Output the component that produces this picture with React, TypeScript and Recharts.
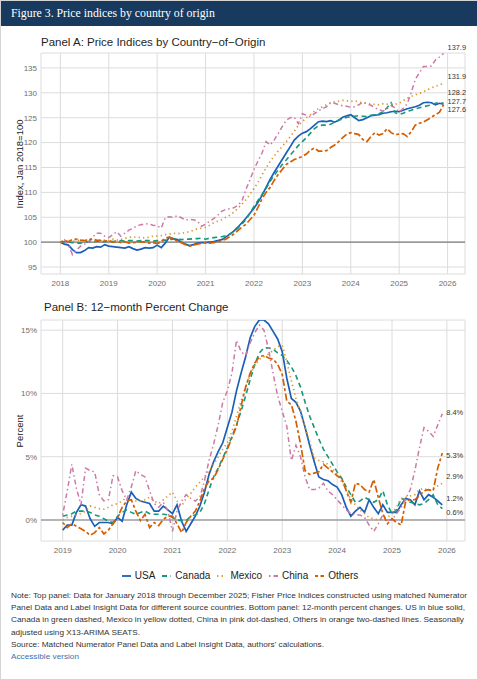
import React from "react";
import {
  LineChart,
  Line,
  XAxis,
  YAxis,
  CartesianGrid,
  ReferenceLine,
  ReferenceDot,
} from "recharts";

const seriesNames = ["USA", "Canada", "Mexico", "China", "Others"];

// Panel A: Fisher price index, Jan 2018 = 100, monthly Jan 2018 - Dec 2025
const usaIndex = [
  100.0, 99.6, 99.4, 98.5, 97.9, 97.9, 98.3, 98.9, 98.8, 99.1, 99.0, 99.5,
  99.2, 99.1, 99.0, 98.9, 98.8, 99.1, 98.7, 98.4, 98.6, 98.9, 98.8, 98.9,
  99.4, 98.9, 99.8, 101.0, 100.7, 100.5, 100.0, 99.6, 99.3, 99.5, 99.8, 99.9,
  99.9, 100.0, 100.1, 100.3, 100.5, 101.0, 101.6, 102.2, 103.0, 103.9, 104.8, 105.8,
  106.8, 108.0, 109.4, 111.0, 112.6, 114.0, 115.3, 116.6, 117.9, 119.2, 120.5, 121.3,
  121.9, 122.2, 122.8, 123.5, 124.2, 124.3, 124.2, 124.4, 124.1, 124.5, 125.1, 125.4,
  125.6, 125.0, 124.4, 124.6, 125.0, 125.4, 125.5, 125.6, 125.9, 126.0, 126.2, 126.3,
  126.2, 126.5, 126.8, 127.0, 127.2, 127.5, 128.0, 128.1, 128.0, 127.6, 127.9, 127.7,
];
const canadaIndex = [
  100.0, 100.1, 100.0, 99.9, 99.8, 99.8, 100.0, 100.1, 100.1, 100.2, 100.2, 100.1,
  100.2, 100.1, 100.2, 100.3, 100.2, 100.3, 100.3, 100.2, 100.3, 100.3, 100.3, 100.2,
  100.3, 100.3, 100.4, 100.5, 100.6, 100.6, 100.5, 100.6, 100.6, 100.7, 100.7, 100.8,
  100.6, 100.8, 100.9, 101.0, 101.1, 101.3, 101.6, 102.1, 102.8, 103.6, 104.5, 105.8,
  107.2, 108.4, 109.6, 110.8, 112.2, 113.4, 114.5, 115.6, 116.5, 117.5, 118.4, 119.4,
  120.2, 121.0, 121.9, 122.8, 123.4, 123.5, 123.5, 123.7, 124.1, 124.5, 124.8, 125.1,
  125.2, 125.3, 125.4, 125.3, 125.2, 125.5, 125.6, 125.8, 126.2, 127.0, 128.0, 126.0,
  125.7, 125.9, 126.3, 126.5, 126.8, 127.0, 127.2, 127.4, 127.6, 127.9, 128.1, 127.9,
];
const mexicoIndex = [
  100.0, 100.2, 100.4, 100.1, 100.3, 100.5, 100.2, 100.6, 100.4, 100.3, 100.5, 100.4,
  100.3, 100.6, 100.4, 100.5, 100.8, 100.9, 101.1, 100.9, 101.0, 100.8, 101.0, 101.2,
  101.2, 101.3, 101.5, 101.6, 101.8, 101.7, 101.8, 101.9, 102.1, 102.4, 102.7, 102.8,
  103.0, 103.4, 103.9, 104.2, 104.5, 105.0, 105.4, 106.0, 106.8, 107.6, 108.5, 109.6,
  110.8, 112.0, 113.5, 114.9, 116.2, 117.3, 118.3, 119.2, 120.2, 121.2, 122.3, 123.5,
  124.2, 125.0, 125.6, 126.3, 126.8, 127.2, 127.6, 127.9, 128.2, 128.3, 128.5, 128.4,
  128.3, 128.4, 128.1, 128.0, 127.9, 127.7, 127.7, 127.6, 127.8, 127.7, 127.8, 127.7,
  127.9, 128.4, 128.9, 129.3, 129.6, 129.9, 130.2, 130.6, 131.0, 131.3, 131.6, 131.9,
];
const chinaIndex = [
  100.0, 100.5, 99.4, 97.5, 98.4, 99.2, 99.6, 100.1, 101.0, 101.8, 101.8, 101.2,
  100.9, 101.5, 102.1, 101.2, 101.8, 102.4, 102.8, 103.3, 103.5, 103.7, 103.6, 103.4,
  103.3, 102.8, 104.9, 105.1, 105.0, 105.3, 104.9, 104.4, 104.6, 104.5, 104.2, 103.2,
  103.6, 104.2, 104.7, 105.4, 106.2, 106.6, 106.7, 106.9, 107.4, 108.2, 110.6, 112.5,
  114.6, 116.3, 117.9, 120.2, 119.5, 120.5, 121.8, 123.2, 124.5, 125.0, 125.1, 123.8,
  125.8, 125.5, 125.2, 125.8, 126.4, 126.8, 127.2, 128.1, 127.9, 127.6, 127.4, 127.3,
  127.1, 127.2, 127.6, 128.1, 127.8, 127.5, 127.0, 126.6, 126.3, 126.8, 127.4, 127.0,
  126.1, 126.9, 127.8, 130.1, 132.7, 134.0, 135.3, 135.3, 135.4, 136.6, 137.2, 137.9,
];
const othersIndex = [
  100.0, 100.3, 100.1, 100.5, 100.6, 100.4, 100.3, 100.5, 100.6, 100.4, 100.3, 100.2,
  100.3, 100.0, 100.2, 99.9, 100.1, 99.8, 99.9, 100.0, 100.1, 100.0, 99.8, 99.9,
  99.7, 100.1, 100.8, 101.0, 100.6, 100.2, 99.9, 99.5, 99.2, 99.4, 99.6, 99.8,
  99.9, 99.8, 99.9, 100.1, 100.3, 100.6, 101.1, 101.6, 102.3, 103.0, 103.6, 104.5,
  105.4, 107.0, 108.7, 110.0, 111.0, 112.4, 113.6, 114.6, 115.6, 116.1, 116.6, 116.9,
  117.2, 117.7, 118.5, 118.9, 118.3, 118.3, 118.4, 119.0, 119.5, 120.2, 121.0, 121.7,
  122.0, 121.8, 121.6, 120.6, 120.2, 121.2, 122.0, 121.5, 121.8, 122.8, 122.0, 121.6,
  121.7, 121.8, 121.2, 122.2, 123.5, 123.9, 124.1, 124.6, 125.1, 125.6, 126.1, 127.6,
];

// Panel B: 12-month percent change, monthly Jan 2019 - Dec 2025
const usaPct = [
  -0.8, -0.4, -0.4, 0.6, 1.2, 1.1, 0.1, -0.5, -0.2, -0.2, -0.2, -0.3,
  0.2, -0.1, 1.2, 2.2, 1.7, 1.5, 1.4, 1.3, 0.7, 0.7, 1.1, 0.8,
  0.5, 1.2, -0.1, -0.9, -0.3, 0.3, 1.1, 2.2, 3.6, 4.6, 5.4, 6.1,
  7.3, 8.5, 10.2, 11.6, 12.9, 14.4, 15.3, 15.8, 15.8, 15.5, 14.9, 14.3,
  13.3, 11.2, 9.6, 9.3, 8.6, 7.3, 5.9, 4.6, 3.4, 3.2, 3.1, 2.8,
  2.6, 2.0, 1.0, 0.3, 0.7, 1.0, 0.6, 1.6, 1.0, 0.5, 1.2, 0.6,
  0.6, 0.6, 1.2, 1.7, 1.6, 1.2, 2.3, 1.6, 2.0, 1.8, 1.5, 1.2,
];
const canadaPct = [
  0.3, 0.4, 0.5, 0.7, 0.7, 0.7, 0.6, 0.4, 0.3, 0.1, -0.1, -0.2,
  0.3, 0.6, 0.8, 0.6, 0.45, 0.6, 0.7, 0.5, 0.45, 0.45, 0.45, 0.4,
  0.2, 0.0, -0.05, -0.05, 0.3, 0.4, 0.6, 1.3, 2.4, 3.4, 4.1, 4.9,
  5.7, 6.6, 7.5, 8.6, 9.8, 11.1, 12.3, 13.2, 13.6, 13.6, 13.5, 13.2,
  13.0, 12.6, 12.1, 11.4, 10.5, 9.3, 8.2, 7.3, 6.4, 5.6, 5.0, 4.4,
  3.8, 3.3, 2.6, 2.0, 1.4, 1.5, 1.8, 1.6, 1.4, 1.6, 2.3, 1.2,
  0.5, 0.8, 1.7, 1.6, 1.4, 1.3, 1.2, 1.3, 1.6, 2.0, 1.2, 0.9,
];
const mexicoPct = [
  0.0, 0.2, 0.3, 0.4, 0.5, 0.7, 1.1, 1.0, 0.9, 0.85, 1.0, 1.2,
  1.3, 1.5, 1.8, 1.6, 1.5, 1.5, 1.6, 1.8, 1.5, 1.3, 1.6, 1.9,
  2.2, 1.5, 1.1, 1.7, 2.1, 2.6, 3.0, 3.4, 3.9, 4.4, 5.0, 5.6,
  6.1, 7.0, 8.2, 9.4, 10.5, 11.5, 12.2, 12.7, 12.9, 13.1, 13.4, 13.7,
  13.8, 12.5, 11.0, 9.6, 8.5, 7.3, 6.2, 4.9, 4.7, 4.6, 4.4, 4.0,
  3.6, 3.0, 2.4, 1.6, 1.2, 0.8, 0.5, 0.2, 0.1, 0.0, 0.1, 0.2,
  0.5, 1.0, 1.7, 1.8, 1.9, 2.0, 2.4, 2.5, 2.3, 2.5, 2.7, 2.9,
];
const chinaPct = [
  0.4, 2.3, 4.4, 2.5, 1.2, 4.1, 3.9, 3.8, 2.0, 1.5, 1.6, 3.5,
  3.4, 2.3, 1.6, 2.6, 3.9, 3.6, 3.4, 2.3, 1.3, 1.0, 1.4, 0.7,
  -0.9, 0.7, 1.5, 2.0, 1.7, 1.5, 1.8, 3.1, 4.7, 6.0, 7.5, 9.3,
  10.2, 11.6, 14.2, 13.3, 13.0, 14.0, 14.8, 15.4, 15.0, 13.5, 11.6, 9.8,
  8.6, 7.4, 4.7, 5.9, 5.0, 3.4, 2.4, 2.4, 2.5, 2.9, 2.3, 2.0,
  1.6, 1.2, 0.8, 0.5, 0.4, 0.4, 0.2, -0.4, -0.9, -0.3, 0.4, 0.0,
  0.0, 0.5, 1.0, 1.7, 2.4, 3.9, 5.7, 7.3, 7.0, 6.6, 7.5, 8.4,
];
const othersPct = [
  -0.2, -0.6, -0.3, -0.5, -0.7, -0.9, -1.2, -1.0, -0.6, -1.1, -0.8, -0.3,
  0.2, 1.0, 1.5, 1.6, 0.7, -0.05, 0.45, -0.6, -0.2, -0.45, 0.05, 0.3,
  0.3, -0.3, -1.0, -0.2, 0.3, 0.7, 1.5, 2.5, 3.1, 3.3, 4.0, 4.8,
  5.6, 6.5, 7.4, 9.0, 10.5, 11.6, 12.4, 12.9, 13.0, 12.8, 12.7, 12.3,
  11.5, 9.4, 9.1, 7.8, 6.0, 3.9, 3.6, 3.7, 3.8, 4.4, 4.1, 3.8,
  3.5, 3.3, 2.3, 1.4, 2.9, 2.8, 2.4, 2.2, 3.2, 1.8, 0.5, -0.3,
  0.1, -0.2, -0.4, 1.5, 1.6, 1.6, 1.9, 2.3, 2.4, 2.3, 4.1, 5.3,
];

const indexEndLabels = ["137.9", "131.9", "128.2", "127.7", "127.6"];
const pctEndLabels = ["8.4%", "5.3%", "2.9%", "1.2%", "0.6%"];

const yearTicksA = [2018, 2019, 2020, 2021, 2022, 2023, 2024, 2025, 2026];
const indexTicks = [95, 100, 105, 110, 115, 120, 125, 130, 135];
const yearTicksB = [2019, 2020, 2021, 2022, 2023, 2024, 2025, 2026];
const pctTicks = [0, 5, 10, 15];

const indexSeries = [usaIndex, canadaIndex, mexicoIndex, chinaIndex, othersIndex];
const pctSeries = [usaPct, canadaPct, mexicoPct, chinaPct, othersPct];

function buildRows(series: number[][], startYear: number) {
  return series[0].map((_, i) => {
    const row: Record<string, number> = { t: startYear + i / 12 };
    seriesNames.forEach((name, k) => {
      row[name] = series[k][i];
    });
    return row;
  });
}

const indexRows = buildRows(indexSeries, 2018);
const pctRows = buildRows(pctSeries, 2019);
const lastT = 2025 + 11 / 12;

// where the repelled end labels sit, in data units
const indexLabelAt = [139.2, 133.3, 130.0, 128.3, 126.6];
const pctLabelAt = [8.5, 5.1, 3.45, 1.67, 0.63];

const looks: Record<string, { color: string; dash?: string; width: number }> = {
  USA: { color: "#1a5fb8", width: 1.7 },
  Canada: { color: "#15987a", dash: "5 3.5", width: 1.6 },
  Mexico: { color: "#d9962b", dash: "1.3 3.2", width: 1.7 },
  China: { color: "#cc79a7", dash: "1.5 3 5 3", width: 1.5 },
  Others: { color: "#d55e00", dash: "3 2.5 7 2.5", width: 1.7 },
};

const FONT = "'Liberation Sans', Arial, Helvetica, sans-serif";
const tickStyle = { fontSize: 8, fill: "#6e6e6e" };
const gridColor = "#dcdcdc";

function SeriesLines() {
  return seriesNames.map((name) => (
    <Line
      key={name}
      dataKey={name}
      type="linear"
      stroke={looks[name].color}
      strokeWidth={looks[name].width}
      strokeDasharray={looks[name].dash}
      dot={false}
      activeDot={false}
      isAnimationActive={false}
    />
  ));
}

function EndLabels({ labels, at }: { labels: string[]; at: number[] }) {
  return labels.map((text, i) => (
    <ReferenceDot
      key={text}
      x={lastT}
      y={at[i]}
      r={0}
      ifOverflow="visible"
      label={{ value: text, position: "right", offset: 4, fontSize: 7.4, fill: "#333" }}
    />
  ));
}

function Legend() {
  return (
    <div
      style={{
        position: "absolute",
        top: 569,
        left: 0,
        width: 478,
        display: "flex",
        justifyContent: "center",
        gap: 7,
        fontSize: 10,
        color: "#222",
      }}
    >
      {seriesNames.map((name) => (
        <div key={name} style={{ display: "flex", alignItems: "center", gap: 4 }}>
          <svg width={9} height={6}>
            <line
              x1={0}
              x2={9}
              y1={3}
              y2={3}
              stroke={looks[name].color}
              strokeWidth={1.8}
              strokeDasharray={looks[name].dash}
            />
          </svg>
          <span>{name}</span>
        </div>
      ))}
    </div>
  );
}

const noteLines = [
  "Note: Top panel: Data for January 2018 through December 2025; Fisher Price Indices constructed using matched Numerator",
  "Panel Data and Label Insight Data for different source countries. Bottom panel: 12-month percent changes. US in blue solid,",
  "Canada in green dashed, Mexico in yellow dotted, China in pink dot-dashed, Others in orange two-dashed lines. Seasonally",
  "adjusted using X13-ARIMA SEATS.",
  "Source: Matched Numerator Panel Data and Label Insight Data, authors' calculations.",
];
const noteWidths = [456, 454, 453, 129, 313];

function Notes() {
  return (
    <svg
      width={478}
      height={80}
      style={{ position: "absolute", top: 588, left: 0 }}
      fontFamily={FONT}
    >
      {noteLines.map((line, i) => (
        <text
          key={line}
          x={10}
          y={9.2 + i * 12.1}
          fontSize={8.1}
          fill="#333"
          textLength={noteWidths[i]}
          lengthAdjust="spacingAndGlyphs"
        >
          {line}
        </text>
      ))}
      <text x={10} y={9.2 + 5 * 12.1} fontSize={8.1} fill="#4670a8" textLength={68} lengthAdjust="spacingAndGlyphs">
        Accessible version
      </text>
    </svg>
  );
}

export default function App() {
  return (
    <div
      style={{
        position: "absolute",
        top: 0,
        left: 0,
        width: 478,
        height: 680,
        boxSizing: "border-box",
        border: "1px solid #d4d4d4",
        background: "#fff",
        fontFamily: FONT,
        overflow: "hidden",
      }}
    >
      <div
        style={{
          position: "absolute",
          top: 0,
          left: 0,
          width: 478,
          height: 25,
          background: "#173a5e",
          color: "#fff",
          fontFamily: "'Liberation Serif', 'DejaVu Serif', Georgia, serif",
          fontSize: 11.8,
          lineHeight: "25px",
          paddingLeft: 10,
          boxSizing: "border-box",
        }}
      >
        Figure 3. Price indices by country of origin
      </div>

      <div style={{ position: "absolute", top: 35, left: 40, fontSize: 11.5, color: "#1f1f1f" }}>
        Panel A: Price Indices by Country−of−Origin
      </div>
      <div
        style={{
          position: "absolute",
          top: 163,
          left: 18,
          transform: "translate(-50%, -50%) rotate(-90deg)",
          whiteSpace: "nowrap",
          fontSize: 9.5,
          color: "#222",
        }}
      >
        Index, Jan 2018=100
      </div>
      <div style={{ position: "absolute", top: 30, left: 0 }}>
        <LineChart
          width={478}
          height={265}
          data={indexRows}
          margin={{ top: 22, right: 14, bottom: 2, left: 10 }}
        >
          <CartesianGrid stroke={gridColor} strokeWidth={1} />
          <XAxis
            dataKey="t"
            type="number"
            domain={[2017.6, 2026.36]}
            ticks={yearTicksA}
            tick={tickStyle}
            tickLine={false}
            axisLine={false}
            tickSize={4}
            tickMargin={2}
            height={20}
            allowDataOverflow
          />
          <YAxis
            type="number"
            domain={[93.6, 138]}
            ticks={indexTicks}
            tick={tickStyle}
            tickLine={false}
            axisLine={false}
            tickSize={2}
            tickMargin={2}
            width={30}
            allowDataOverflow
          />
          <ReferenceLine y={100} stroke="#7d7d7d" strokeWidth={1.2} />
          {SeriesLines()}
          {EndLabels({ labels: indexEndLabels, at: indexLabelAt })}
        </LineChart>
      </div>

      <div style={{ position: "absolute", top: 300, left: 43, fontSize: 11.5, color: "#1f1f1f" }}>
        Panel B: 12−month Percent Change
      </div>
      <div
        style={{
          position: "absolute",
          top: 430,
          left: 18,
          transform: "translate(-50%, -50%) rotate(-90deg)",
          whiteSpace: "nowrap",
          fontSize: 9.5,
          color: "#222",
        }}
      >
        Percent
      </div>
      <div style={{ position: "absolute", top: 290, left: 0 }}>
        <LineChart
          width={478}
          height={270}
          data={pctRows}
          margin={{ top: 29, right: 14, bottom: 0, left: 10 }}
        >
          <CartesianGrid stroke={gridColor} strokeWidth={1} />
          <XAxis
            dataKey="t"
            type="number"
            domain={[2018.605, 2026.33]}
            ticks={yearTicksB}
            tick={tickStyle}
            tickLine={false}
            axisLine={false}
            tickSize={4}
            tickMargin={2}
            height={20}
            allowDataOverflow
          />
          <YAxis
            type="number"
            domain={[-1.66, 15.8]}
            ticks={pctTicks}
            tickFormatter={(v: number) => `${v}%`}
            tick={tickStyle}
            tickLine={false}
            axisLine={false}
            tickSize={2}
            tickMargin={2}
            width={30}
            allowDataOverflow
          />
          <ReferenceLine y={0} stroke="#7d7d7d" strokeWidth={1.2} />
          {SeriesLines()}
          {EndLabels({ labels: pctEndLabels, at: pctLabelAt })}
        </LineChart>
      </div>

      <Legend />
      <Notes />
    </div>
  );
}
